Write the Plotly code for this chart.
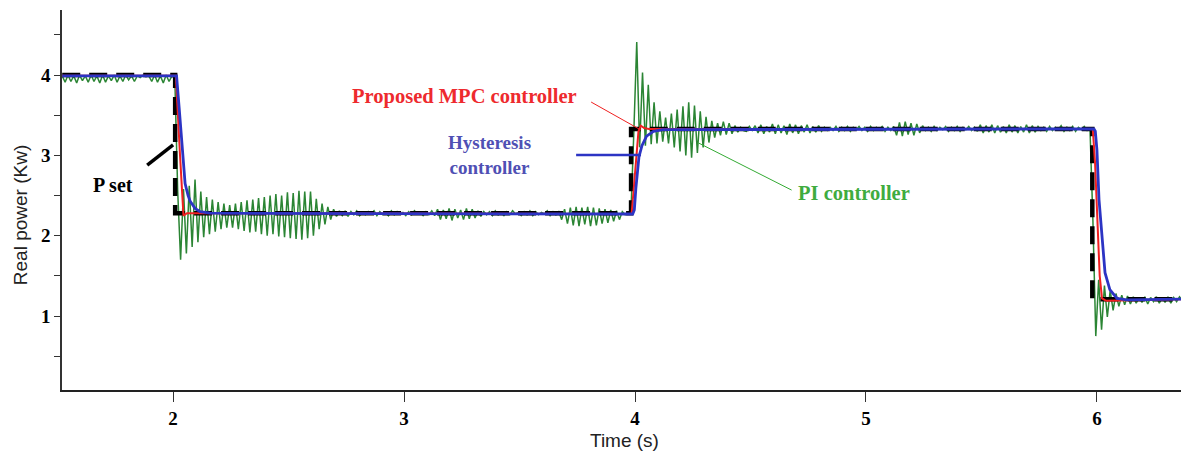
import numpy as np
import plotly.graph_objects as go

# ---------------- data ----------------
# P set (reference power), step changes
pset_t = [1.52, 2.009, 2.009, 3.983, 3.983, 5.98, 5.98, 6.37]
pset_v = [4.00, 4.00, 2.28, 2.28, 3.33, 3.33, 1.21, 1.21]

# Proposed MPC controller
mpc_t = [1.52, 2.012, 2.03, 2.045, 2.06, 3.985, 3.995, 4.005, 4.015, 4.025, 4.04, 4.06,
         5.982, 5.992, 6.002, 6.012, 6.022, 6.04, 6.37]
mpc_v = [3.99, 3.99, 3.00, 2.25, 2.28, 2.27, 2.60, 3.00, 3.30, 3.37, 3.34, 3.33,
         3.33, 2.90, 2.20, 1.50, 1.22, 1.19, 1.21]

# Hysteresis controller
hys_t = [1.52, 2.015, 2.026, 2.039, 2.052, 2.065, 2.074, 2.095, 2.117, 2.16, 3.99,
         3.997, 4.004, 4.017, 4.03, 4.05, 4.08, 4.12, 5.987,
         5.993, 6.0, 6.009, 6.022, 6.035, 6.056, 6.087, 6.13, 6.37]
hys_v = [3.99, 3.99, 3.60, 3.06, 2.65, 2.50, 2.43, 2.34, 2.30, 2.28, 2.27,
         2.32, 2.60, 2.98, 3.12, 3.24, 3.30, 3.32, 3.33,
         3.30, 3.07, 2.45, 1.95, 1.54, 1.33, 1.22, 1.20, 1.21]

# PI controller (oscilloscope trace, one sample every pi_step seconds from pi_start)
pi_start = 1.52
pi_step = 0.0125
pi_values = [
    3.99, 3.91, 4.00, 3.92, 3.99, 3.90, 4.00, 3.93, 3.99, 3.91,
    4.00, 3.92, 3.99, 3.90, 4.00, 3.91, 3.99, 3.93, 4.00, 3.91,
    3.99, 3.92, 4.00, 3.94, 3.99, 3.92, 3.99, 3.97, 4.00, 3.98,
    3.99, 3.92, 4.00, 3.91, 3.99, 3.90, 4.00, 3.92, 3.99, 3.96,
    2.55, 1.70, 2.58, 1.78, 2.62, 1.86, 2.70, 1.92, 2.55, 1.98,
    2.48, 2.02, 2.45, 2.05, 2.42, 2.08, 2.40, 2.10, 2.38, 2.10,
    2.40, 2.08, 2.42, 2.06, 2.44, 2.04, 2.45, 2.05, 2.47, 2.02,
    2.48, 2.00, 2.50, 2.02, 2.52, 1.99, 2.50, 1.98, 2.54, 1.97,
    2.53, 1.96, 2.56, 1.95, 2.55, 1.97, 2.55, 2.00, 2.46, 2.08,
    2.40, 2.14, 2.36, 2.20, 2.33, 2.24, 2.31,
    2.25, 2.31, 2.24, 2.30, 2.26, 2.31, 2.25, 2.29, 2.26, 2.30,
    2.27, 2.31, 2.25, 2.30, 2.26, 2.29, 2.25, 2.31, 2.26, 2.30,
    2.27, 2.29, 2.25, 2.30, 2.26, 2.31, 2.27, 2.29, 2.25, 2.30,
    2.26, 2.31, 2.25,
    2.33, 2.20, 2.32, 2.21, 2.34, 2.19, 2.33, 2.22, 2.32, 2.20,
    2.34, 2.21, 2.33, 2.22, 2.31, 2.24, 2.30,
    2.26, 2.30, 2.25, 2.31, 2.26, 2.29, 2.25, 2.30, 2.26, 2.31,
    2.27, 2.29, 2.25, 2.30, 2.26, 2.31, 2.25, 2.30, 2.26, 2.29,
    2.27, 2.31, 2.25, 2.30, 2.26, 2.30,
    2.20, 2.33, 2.15, 2.35, 2.13, 2.36, 2.12, 2.35, 2.14, 2.36,
    2.12, 2.35, 2.13, 2.34, 2.15, 2.33, 2.16, 2.32, 2.18, 2.31,
    2.20, 2.30,
    2.26, 2.28,
    2.30, 3.30, 4.41, 3.10, 4.03, 3.12, 3.88, 3.14, 3.66, 3.15,
    3.55, 3.17, 3.47, 3.15, 3.52, 3.10, 3.57, 3.05, 3.61, 3.00,
    3.66, 2.97, 3.62, 3.03, 3.55, 3.10, 3.48, 3.16, 3.43, 3.22,
    3.40, 3.25, 3.42, 3.26, 3.40, 3.27, 3.37, 3.29, 3.35, 3.31,
    3.30, 3.36, 3.31,
    3.37, 3.28, 3.38, 3.27, 3.36, 3.29, 3.39, 3.27, 3.38, 3.28,
    3.37, 3.26, 3.39, 3.28, 3.38, 3.27, 3.37, 3.29, 3.38, 3.28,
    3.36, 3.29, 3.37, 3.30, 3.35,
    3.31, 3.35, 3.31, 3.36, 3.30, 3.35, 3.31, 3.36, 3.30, 3.35,
    3.32, 3.36, 3.31, 3.35, 3.30, 3.36, 3.31, 3.35, 3.32, 3.36,
    3.30, 3.35, 3.31, 3.36,
    3.25, 3.41, 3.24, 3.42, 3.26, 3.40, 3.25, 3.39, 3.28, 3.37,
    3.31, 3.35, 3.30, 3.36, 3.31, 3.35, 3.32, 3.36, 3.30, 3.35,
    3.31, 3.36, 3.30, 3.35, 3.32, 3.36, 3.31, 3.35, 3.30,
    3.38, 3.28, 3.37, 3.29, 3.38, 3.28, 3.37, 3.29, 3.36, 3.28,
    3.38, 3.29, 3.37, 3.28, 3.36, 3.29, 3.38, 3.28, 3.37, 3.29,
    3.36,
    3.31, 3.35, 3.30, 3.36, 3.31, 3.35, 3.32, 3.37, 3.30, 3.35,
    3.31, 3.36, 3.30, 3.35, 3.32, 3.36, 3.31, 3.33,
    2.20, 0.75, 1.45, 0.83, 1.38, 0.99, 1.32, 1.07, 1.28, 1.12,
    1.26, 1.14, 1.25, 1.15, 1.24, 1.16, 1.23, 1.17, 1.24, 1.15,
    1.23, 1.18, 1.24, 1.16, 1.23, 1.17, 1.24, 1.16, 1.23, 1.18,
    1.24, 1.19,
]
pi_t = pi_start + pi_step * np.arange(len(pi_values))

x_ticks = [2, 3, 4, 5, 6]
y_ticks = [0.5, 1, 1.5, 2, 2.5, 3, 3.5, 4, 4.5]
y_ticktext = ["", "1", "", "2", "", "3", "", "4", ""]

# ---------------- figure ----------------
GREEN = "#2b8534"
RED = "#f02020"
BLUE = "#2c34c4"

fig = go.Figure()
fig.add_trace(go.Scatter(x=pi_t, y=pi_values, mode="lines",
                         line=dict(color=GREEN, width=1.5), name="PI controller"))
fig.add_trace(go.Scatter(x=pset_t, y=pset_v, mode="lines",
                         line=dict(color="black", width=4.5, dash="18px,9px"), name="P set"))
fig.add_trace(go.Scatter(x=mpc_t, y=mpc_v, mode="lines",
                         line=dict(color=RED, width=2), name="Proposed MPC controller"))
fig.add_trace(go.Scatter(x=hys_t, y=hys_v, mode="lines",
                         line=dict(color=BLUE, width=2.8), name="Hysteresis controller"))

serif_b = dict(family="Liberation Serif", size=19, weight="bold")

# pointer lines for the labels
fig.add_shape(type="line", x0=3.81, y0=3.664, x1=4.026, y1=3.315,
              line=dict(color=RED, width=1))
fig.add_shape(type="line", x0=3.745, y0=3.004, x1=4.026, y1=3.004,
              line=dict(color=BLUE, width=2.5))
fig.add_shape(type="line", x0=4.276, y0=3.153, x1=4.678, y1=2.568,
              line=dict(color="#33aa33", width=1))
fig.add_shape(type="line", x0=1.888, y0=2.88, x1=2.0, y1=3.13,
              line=dict(color="black", width=3.5))

fig.add_annotation(x=3.26, y=3.73, text="<b>Proposed MPC controller</b>", showarrow=False,
                   font=dict(serif_b, size=20.5, color="#ee2a2e"))
fig.add_annotation(x=3.37, y=3.01, text="<b>Hysteresis<br>controller</b>", showarrow=False,
                   font=dict(serif_b, color="#4f50b4"))
fig.add_annotation(x=4.95, y=2.53, text="<b>PI controller</b>", showarrow=False,
                   font=dict(serif_b, size=20.5, color="#3fac3f"))
fig.add_annotation(x=1.74, y=2.63, text="<b>P set</b>", showarrow=False,
                   font=dict(serif_b, size=20, color="black"))

# axis titles
fig.add_annotation(xref="paper", yref="paper", x=0.503, y=0, yshift=-50,
                   text="Time (s)", showarrow=False, yanchor="middle",
                   font=dict(family="Liberation Sans", size=19, color="#222"))
fig.add_annotation(xref="paper", yref="paper", x=0, y=0.46, xshift=-42,
                   text="Real power (Kw)", showarrow=False, textangle=-90,
                   xanchor="center", yanchor="middle",
                   font=dict(family="Liberation Sans", size=19, color="#222"))

fig.update_layout(
    width=1181, height=452, autosize=False,
    margin=dict(l=62, r=0, t=10, b=62, autoexpand=False),
    plot_bgcolor="white", paper_bgcolor="white",
    showlegend=False,
    xaxis=dict(range=[1.519, 6.364], tickvals=x_ticks, ticktext=[str(v) for v in x_ticks],
               automargin=False,
               ticks="outside", ticklen=10, tickwidth=1, tickcolor="#333",
               showline=True, linecolor="#222", linewidth=2, showgrid=False, zeroline=False,
               tickfont=dict(family="Liberation Serif", size=19, weight="bold", color="black")),
    yaxis=dict(range=[0.079, 4.81], tickvals=y_ticks, ticktext=y_ticktext,
               automargin=False,
               ticks="outside", ticklen=6, tickwidth=1, tickcolor="#333",
               showline=True, linecolor="#333", linewidth=1.5, showgrid=False, zeroline=False,
               tickfont=dict(family="Liberation Serif", size=19, weight="bold", color="black")),
)

fig.write_html("out.html", config={"displayModeBar": False},
               post_script="document.body.style.margin='0';document.body.style.overflow='hidden';")
